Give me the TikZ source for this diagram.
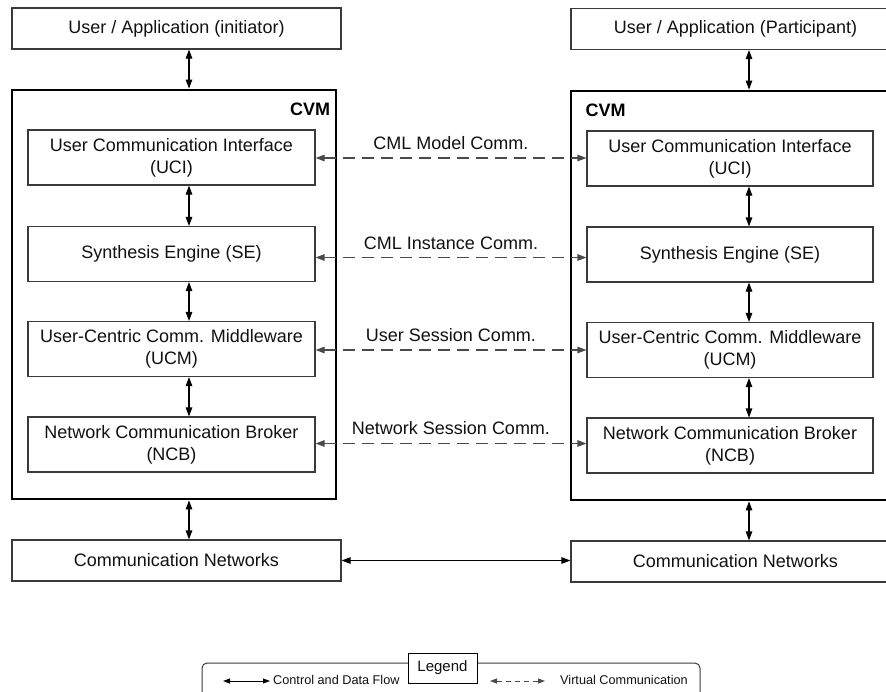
\documentclass[tikz,border=0pt]{standalone}
\usepackage{fontspec}
\setmainfont{Liberation Sans}
\usetikzlibrary{arrows.meta}
\definecolor{boxc}{HTML}{3A3A3A}
\definecolor{txt}{HTML}{111111}
\definecolor{dashc}{HTML}{4A4A4A}
\begin{document}
\begin{tikzpicture}[x=1pt,y=-1pt,
  box/.style={draw=boxc, line width=1.1pt, inner sep=0pt, align=center,
    font=\fontsize{18}{22}\selectfont, text=txt},
  cvmbox/.style={draw=black, line width=2.8pt, inner sep=0pt},
  cvmlbl/.style={font=\bfseries\fontsize{18}{22}\selectfont, text=black, inner sep=0pt},
  lbl/.style={font=\fontsize{18}{22}\selectfont, text=txt, inner sep=0pt},
  flow/.style={{Triangle[length=9pt,width=6.5pt]}-{Triangle[length=9pt,width=6.5pt]}, line width=1.1pt, draw=black},
  virt/.style={{Triangle[length=9pt,width=6.5pt]}-{Triangle[length=9pt,width=6.5pt]}, line width=1.2pt, draw=dashc, dash pattern=on 12pt off 7pt},
  lflow/.style={{Triangle[length=7pt,width=5pt]}-{Triangle[length=7pt,width=5pt]}, line width=0.9pt, draw=black},
  lvirt/.style={{Triangle[length=7pt,width=5pt]}-{Triangle[length=7pt,width=5pt]}, line width=0.9pt, draw=dashc, dash pattern=on 5pt off 4pt},
  ltext/.style={font=\fontsize{12.7}{15}\selectfont, text=txt, inner sep=0pt}
]
\useasboundingbox (0,0) rectangle (886,691);

% Left column
\node[box, minimum width=329pt, minimum height=41pt] (uaL) at (176.5,28.5) {User / Application (initiator)};
\node[cvmbox, minimum width=324pt, minimum height=409pt] (cvmL) at (174,294.5) {};
\node[cvmlbl] (cvmlL) at (310,109) {CVM};
\node[box, minimum width=287pt, minimum height=55pt] (uciL) at (171.5,157.5) {User Communication Interface\\(UCI)};
\node[box, minimum width=287pt, minimum height=55pt] (seL) at (171.5,254) {Synthesis Engine (SE)};
\node[box, minimum width=287pt, minimum height=55pt] (ucmL) at (171.5,349) {User-Centric Comm. Middleware\\(UCM)};
\node[box, minimum width=287pt, minimum height=55pt] (ncbL) at (171.5,444.5) {Network Communication Broker\\(NCB)};
\node[box, minimum width=329pt, minimum height=41pt] (cnL) at (176.5,560.5) {Communication Networks};

% Right column
\node[box, minimum width=329pt, minimum height=41pt] (uaR) at (735.5,29) {User / Application (Participant)};
\node[cvmbox, minimum width=324pt, minimum height=409pt] (cvmR) at (733,295.5) {};
\node[cvmlbl] (cvmlR) at (605.5,110) {CVM};
\node[box, minimum width=286pt, minimum height=55pt] (uciR) at (730,158.5) {User Communication Interface\\(UCI)};
\node[box, minimum width=286pt, minimum height=55pt] (seR) at (730,254.5) {Synthesis Engine (SE)};
\node[box, minimum width=286pt, minimum height=55pt] (ucmR) at (730,350) {User-Centric Comm. Middleware\\(UCM)};
\node[box, minimum width=286pt, minimum height=55pt] (ncbR) at (730,445.5) {Network Communication Broker\\(NCB)};
\node[box, minimum width=329pt, minimum height=41pt] (cnR) at (735.5,561.5) {Communication Networks};

% vertical axes
\coordinate (axL) at (189,0);
\coordinate (axR) at (749,0);

\draw[flow] (uaL.south -| axL) -- (cvmL.north -| axL);
\draw[flow] (uciL.south -| axL) -- (seL.north -| axL);
\draw[flow] (seL.south -| axL) -- (ucmL.north -| axL);
\draw[flow] (ucmL.south -| axL) -- (ncbL.north -| axL);
\draw[flow] (cvmL.south -| axL) -- (cnL.north -| axL);

\draw[flow] (uaR.south -| axR) -- (cvmR.north -| axR);
\draw[flow] (uciR.south -| axR) -- (seR.north -| axR);
\draw[flow] (seR.south -| axR) -- (ucmR.north -| axR);
\draw[flow] (ucmR.south -| axR) -- (ncbR.north -| axR);
\draw[flow] (cvmR.south -| axR) -- (cnR.north -| axR);

\draw[flow] (cnL.east) -- (cnR.west |- cnL.east);

% virtual communication
\draw[virt] ([yshift=-0.5pt]uciL.east) -- node[lbl, yshift=15pt] (l1) {CML Model Comm.} ([yshift=0.5pt]uciR.west);
\draw[virt] ([yshift=-3.5pt]seL.east) -- node[lbl, yshift=14.5pt] (l2) {CML Instance Comm.} ([yshift=-3pt]seR.west);
\draw[virt] ([yshift=-1pt]ucmL.east) -- node[lbl, yshift=15pt] (l3) {User Session Comm.} (ucmR.west);
\draw[virt] ([yshift=1pt]ncbL.east) -- node[lbl, yshift=15.5pt] (l4) {Network Session Comm.} ([yshift=2pt]ncbR.west);

% legend
\node[draw=boxc, line width=1pt, rounded corners=5pt, minimum width=498pt, minimum height=44pt, inner sep=0pt] (legbox) at (451,685) {};
\node[draw=black, line width=1pt, fill=white, minimum width=69pt, minimum height=30pt, inner sep=0pt, font=\fontsize{15}{18}\selectfont, text=txt] (legtitle) at (442.5,668) {Legend};
\coordinate (lfa) at (223,681);
\coordinate (lfb) at (270,681);
\draw[lflow] (lfa) -- (lfb);
\node[ltext, anchor=west] (lft) at (273,679.5) {Control and Data Flow};
\coordinate (lva) at (490,681);
\coordinate (lvb) at (545,681);
\draw[lvirt] (lva) -- (lvb);
\node[ltext, anchor=west] (lvt) at (560,679.5) {Virtual Communication};
\end{tikzpicture}
\end{document}
